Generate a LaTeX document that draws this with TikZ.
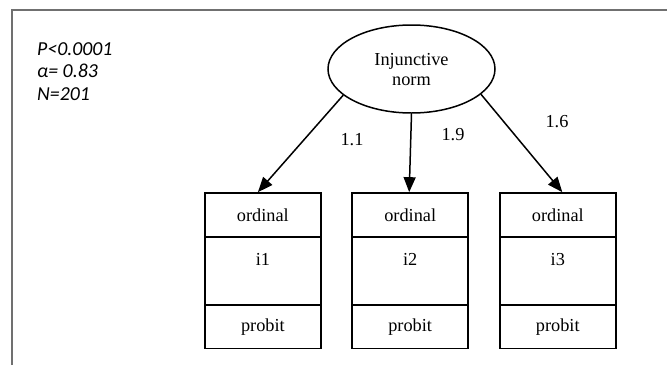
\documentclass[tikz,border=0pt]{standalone}
\usepackage{fontspec}
\setmainfont{Liberation Serif}
\newfontfamily\statfont{Carlito}
\usetikzlibrary{arrows.meta,shapes.geometric}
\definecolor{framegray}{HTML}{707070}
\tikzset{
  frameline/.style={draw=framegray, line width=1.6pt},
  cell/.style={draw, line width=1.5pt, minimum width=116pt, inner sep=0pt, font=\fontsize{18.3}{20}\selectfont},
  topcell/.style={cell, minimum height=44pt},
  midcell/.style={cell, minimum height=68pt, text height=13pt, text depth=23.6pt},
  latent/.style={ellipse, draw, line width=1.5pt, minimum width=167pt, minimum height=88pt, inner sep=0pt, align=center, text depth=0pt, font=\fontsize{18.3}{20}\selectfont},
  arr/.style={line width=1.5pt, -{Triangle[length=15pt,width=12pt]}},
  coef/.style={font=\fontsize{18.3}{20}\selectfont, inner sep=0pt},
  stats/.style={font=\statfont\itshape\fontsize{19.8}{22.5}\selectfont, align=left, inner sep=0pt}
}
\begin{document}
\begin{tikzpicture}[x=1pt,y=-1pt]
\useasboundingbox (0,0) rectangle (667,365);
% frame
\coordinate (fa) at (12,365);
\coordinate (fb) at (12,10);
\coordinate (fc) at (667,10);
\draw[frameline] (fa) -- (fb) -- (fc);
% stats
\node[stats, anchor=base west] (st) at (37,100) {P<0.0001\\α= 0.83\\N=201};
% latent
\node[latent] (e) at (411.5,69) {Injunctive\\norm};
% boxes
\node[topcell] (o1) at (262.9,214.9) {ordinal};
\node[midcell] (m1) at (262.9,270.9) {i1};
\node[topcell] (p1) at (262.9,326.7) {probit};
\node[topcell] (o2) at (410.2,214.9) {ordinal};
\node[midcell] (m2) at (410.2,270.9) {i2};
\node[topcell] (p2) at (410.2,326.7) {probit};
\node[topcell] (o3) at (557.8,214.9) {ordinal};
\node[midcell] (m3) at (557.8,270.9) {i3};
\node[topcell] (p3) at (557.8,326.7) {probit};
% arrows
\draw[arr] (e.201.6) -- ([xshift=-5pt]o1.north);
\draw[arr] (e.south) -- ([xshift=-1pt]o2.north);
\draw[arr] (e.340.3) -- ([xshift=4.5pt]o3.north);
% coefficients
\node[coef] (c1) at (352,140) {1.1};
\node[coef] (c2) at (453,135) {1.9};
\node[coef] (c3) at (557,122) {1.6};
\end{tikzpicture}
\end{document}
